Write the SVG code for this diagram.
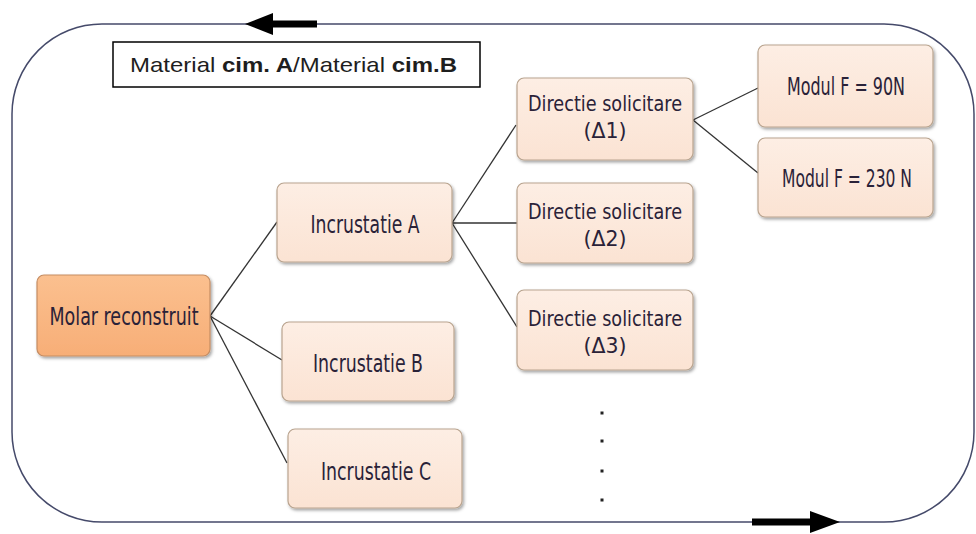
<svg xmlns="http://www.w3.org/2000/svg" width="976" height="534" viewBox="0 0 976 534">
<defs>
<linearGradient id="gPeach" x1="0" y1="0" x2="0" y2="1">
<stop offset="0" stop-color="#fdeee4"/>
<stop offset="1" stop-color="#fbe3d3"/>
</linearGradient>
<linearGradient id="gOrange" x1="0" y1="0" x2="0" y2="1">
<stop offset="0" stop-color="#fbc08f"/>
<stop offset="1" stop-color="#f7ae77"/>
</linearGradient>
<filter id="sh" x="-10%" y="-10%" width="125%" height="130%">
<feDropShadow dx="1.5" dy="2" stdDeviation="1.5" flood-color="#000" flood-opacity="0.35"/>
</filter>
</defs>
<style>
.node rect{fill:url(#gPeach);stroke:#b9a48f;stroke-width:1.2;filter:url(#sh)}
#molar rect{fill:url(#gOrange);stroke:#c58d63}
.lbl{font-family:"DejaVu Sans Condensed","Liberation Sans Narrow","DejaVu Sans",sans-serif;font-size:25px;fill:#2a2238;text-anchor:middle}
.sm{font-size:22px}
.conn line{stroke:#333;stroke-width:1.3}
.frame{fill:none;stroke:#454a6a;stroke-width:1.5}
.dot{fill:#222}
.mat{font-family:"Liberation Sans","Open Sans",sans-serif;font-size:21px;fill:#1e1e1e}
</style>
<rect class="frame" x="12" y="24" width="962" height="498" rx="90" ry="90"/>
<g id="arrows">
<path d="M245 24 L273 13 L273 20.5 L317 20.5 L317 27.5 L273 27.5 L273 35 Z" fill="#000"/>
<path d="M840 522 L810 511 L810 518.5 L752 518.5 L752 525.5 L810 525.5 L810 533 Z" fill="#000"/>
</g>
<g id="material">
<rect x="113" y="42" width="367" height="45" fill="#fff" stroke="#000" stroke-width="1.5"/>
<text class="mat" x="130" y="72" textLength="327" lengthAdjust="spacingAndGlyphs">Material <tspan font-weight="bold">cim. A</tspan>/Material <tspan font-weight="bold">cim.B</tspan></text>
</g>
<g class="conn" id="connectors">
<line x1="210" y1="316" x2="277" y2="222"/>
<line x1="210" y1="316" x2="282" y2="360"/>
<line x1="210" y1="316" x2="287" y2="463"/>
<line x1="452" y1="223" x2="516" y2="125"/>
<line x1="452" y1="223" x2="517" y2="223"/>
<line x1="452" y1="223" x2="517" y2="327"/>
<line x1="693" y1="120" x2="758" y2="88"/>
<line x1="693" y1="120" x2="758" y2="173"/>
</g>
<g class="node" id="molar">
<rect x="37" y="275" width="173" height="81" rx="7"/>
<text class="lbl" x="124" y="325" textLength="149" lengthAdjust="spacingAndGlyphs">Molar reconstruit</text>
</g>
<g class="node" id="incA">
<rect x="277" y="183" width="175" height="79" rx="7"/>
<text class="lbl" x="365" y="233" textLength="109" lengthAdjust="spacingAndGlyphs">Incrustatie A</text>
</g>
<g class="node" id="incB">
<rect x="282" y="322" width="172" height="79" rx="7"/>
<text class="lbl" x="368" y="372" textLength="110" lengthAdjust="spacingAndGlyphs">Incrustatie B</text>
</g>
<g class="node" id="incC">
<rect x="288" y="429" width="174" height="79" rx="7"/>
<text class="lbl" x="376" y="480" textLength="110" lengthAdjust="spacingAndGlyphs">Incrustatie C</text>
</g>
<g class="node" id="dir1">
<rect x="517" y="78" width="176" height="82" rx="7"/>
<text class="lbl sm" x="605" y="111" textLength="154" lengthAdjust="spacingAndGlyphs">Directie solicitare</text>
<text class="lbl sm" x="605" y="138" textLength="43" lengthAdjust="spacingAndGlyphs">(Δ1)</text>
</g>
<g class="node" id="dir2">
<rect x="517" y="183" width="176" height="80" rx="7"/>
<text class="lbl sm" x="605" y="219" textLength="154" lengthAdjust="spacingAndGlyphs">Directie solicitare</text>
<text class="lbl sm" x="605" y="246" textLength="43" lengthAdjust="spacingAndGlyphs">(Δ2)</text>
</g>
<g class="node" id="dir3">
<rect x="517" y="290" width="176" height="80" rx="7"/>
<text class="lbl sm" x="605" y="326" textLength="154" lengthAdjust="spacingAndGlyphs">Directie solicitare</text>
<text class="lbl sm" x="605" y="353" textLength="43" lengthAdjust="spacingAndGlyphs">(Δ3)</text>
</g>
<g class="node" id="mod90">
<rect x="758" y="45" width="175" height="82" rx="7"/>
<text class="lbl" x="846" y="95" textLength="118" lengthAdjust="spacingAndGlyphs">Modul F = 90N</text>
</g>
<g class="node" id="mod230">
<rect x="758" y="138" width="175" height="79" rx="7"/>
<text class="lbl" x="847" y="187" textLength="130" lengthAdjust="spacingAndGlyphs">Modul F = 230 N</text>
</g>
<g id="dots">
<rect class="dot" x="600.5" y="411.5" width="3" height="3"/>
<rect class="dot" x="600.5" y="439.5" width="3" height="3"/>
<rect class="dot" x="600.5" y="469.5" width="3" height="3"/>
<rect class="dot" x="600.5" y="498.5" width="3" height="3"/>
</g>
</svg>
